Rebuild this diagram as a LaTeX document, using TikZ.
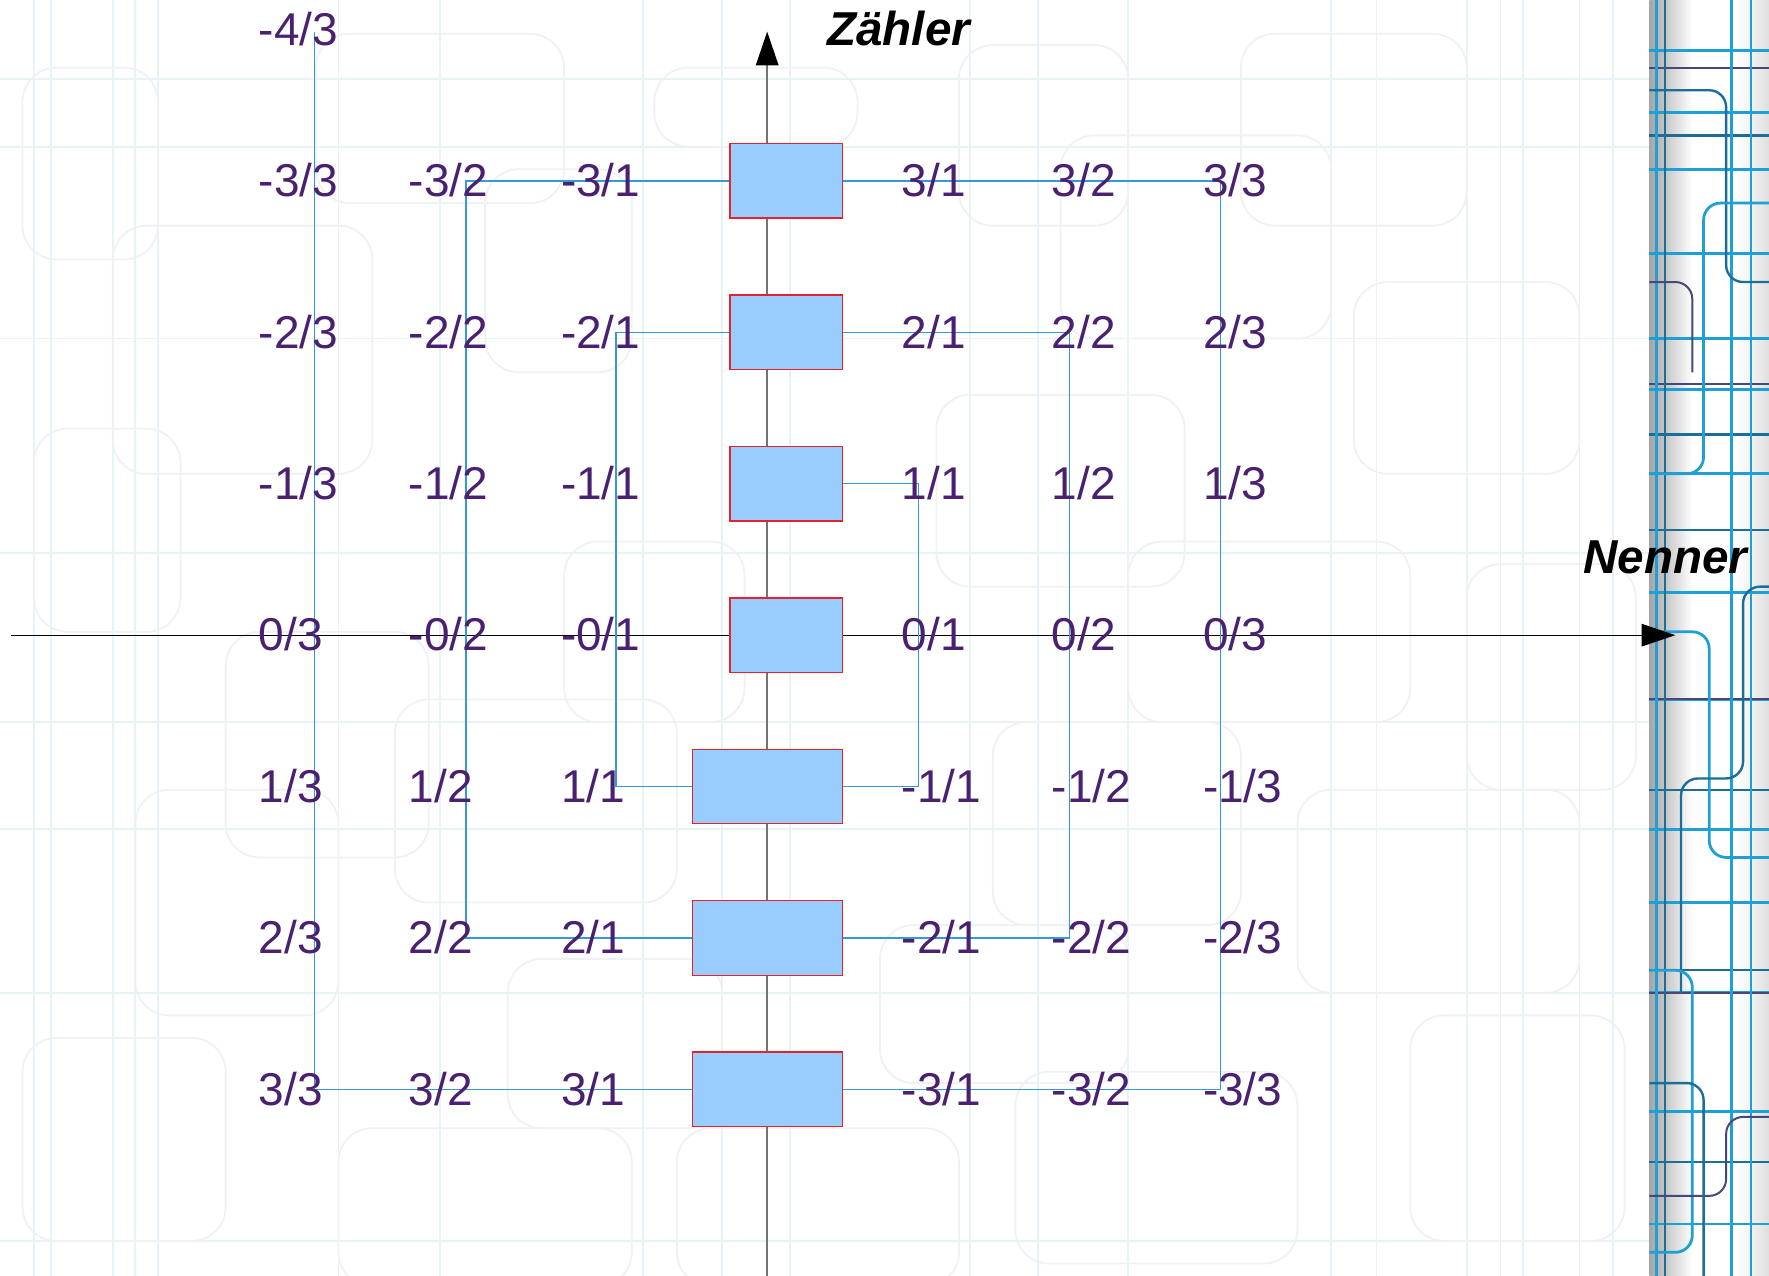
\documentclass[tikz,border=0pt]{standalone}
\usepackage{fontspec}
\setmainfont{Liberation Sans}
\usetikzlibrary{arrows.meta}
\definecolor{fraccol}{RGB}{74,32,112}
\definecolor{boxfill}{RGB}{153,204,255}
\definecolor{boxline}{RGB}{232,32,42}
\definecolor{linkcol}{RGB}{52,152,217}
\definecolor{bgA}{RGB}{232,243,247}
\definecolor{bgB}{RGB}{239,241,244}
\definecolor{tealA}{RGB}{30,160,212}
\definecolor{tealB}{RGB}{28,110,150}
\definecolor{navy}{RGB}{70,72,120}
\tikzset{
  frac/.style={anchor=base west, inner sep=0pt, text=fraccol, font=\fontsize{23.2}{28}\selectfont},
  axislabel/.style={anchor=base west, inner sep=0pt, text=black, font=\fontsize{24}{29}\selectfont\bfseries\itshape},
  fbox/.style={rectangle, draw=boxline, fill=boxfill, line width=0.7pt, minimum height=1.32cm, inner sep=0pt},
  upbox/.style={fbox, minimum width=2cm},
  lowbox/.style={fbox, minimum width=2.66cm},
  link/.style={draw=linkcol, line width=0.6pt},
  bgline/.style={draw=bgA, line width=0.9pt},
  bgrect/.style={draw=bgB, line width=0.9pt, rounded corners=0.6cm},
  stripA/.style={draw=tealA, line width=1.4pt, rounded corners=0.3cm},
  stripB/.style={draw=tealB, line width=1.2pt, rounded corners=0.3cm},
  stripC/.style={draw=navy, line width=1.0pt, rounded corners=0.3cm},
  axtip/.style={-{Triangle[length=0.6cm,width=0.4cm,black]}}
}
\begin{document}
\begin{tikzpicture}[x=0.02cm,y=-0.02cm]
\useasboundingbox (0,0) rectangle (1568,1131);
\fill[white] (0,0) rectangle (1568,1131);
% faint background pattern
\foreach \xx in {30,45,100,120,140,300,390,570,640,700,860,920,1000,1180,1220,1300,1330,1350,1400,1430}
  \draw[bgline] (\xx,0) -- (\xx,1131);
\foreach \yy in {70,130,300,490,640,735,880,1100}
  \draw[bgline] (0,\yy) -- (1462,\yy);
\foreach \xa/\ya/\xb/\yb in {20/60/140/230, 100/200/330/420, 30/380/160/560, 280/30/500/180, 430/150/560/330,
  200/560/380/760, 120/700/300/900, 350/620/600/800, 500/480/660/640, 850/40/1000/200, 940/120/1180/300,
  1100/30/1300/200, 1200/250/1400/420, 830/350/1050/520, 1000/480/1250/640, 1300/500/1450/700,
  880/640/1100/820, 1150/700/1400/880, 1250/900/1440/1100, 900/950/1150/1120, 600/1000/850/1140,
  300/1000/560/1140, 20/920/200/1100, 450/850/640/1000, 780/820/1000/960, 580/60/760/130}
  \draw[bgrect] (\xa,\ya) rectangle (\xb,\yb);
% right decorative strip
\fill[white] (1462,0) rectangle (1568,1131);
\shade[left color=gray!70, right color=white] (1462,0) rectangle (1500,1131);
\shade[left color=white, right color=gray!25] (1540,0) rectangle (1568,1131);
\foreach \yy in {45,100,150,225,300,345,420,525,620,735,800,880,985,1085}
  \draw[stripA] (1462,\yy) -- (1568,\yy);
\foreach \yy in {120,385,470,700,860,1030}
  \draw[stripB] (1462,\yy) -- (1568,\yy);
\foreach \yy in {60,340,620,880}
  \draw[stripC] (1462,\yy) -- (1568,\yy);
\draw[stripA] (1468,0) -- (1468,1131);
\draw[stripB] (1476,0) -- (1476,1131);
\draw[stripA] (1535,0) -- (1535,1131);
\draw[stripA] (1552,0) -- (1552,1131);
\draw[stripB] (1462,80) -- (1530,80) -- (1530,250) -- (1568,250);
\draw[stripA] (1568,180) -- (1510,180) -- (1510,420) -- (1462,420);
\draw[stripC] (1462,250) -- (1500,250) -- (1500,330);
\draw[stripA] (1462,560) -- (1515,560) -- (1515,760) -- (1568,760);
\draw[stripB] (1568,520) -- (1545,520) -- (1545,690) -- (1490,690) -- (1490,880);
\draw[stripA] (1462,860) -- (1500,860) -- (1500,1110) -- (1462,1110);
\draw[stripC] (1462,1060) -- (1530,1060) -- (1530,990) -- (1568,990);
\draw[stripB] (1462,960) -- (1510,960) -- (1510,1131);
% axes
\coordinate (vbot) at (680,1131);
\coordinate (vtop) at (680,28);
\coordinate (hleft) at (10,563);
\coordinate (hright) at (1485,563);
\draw[draw=gray!90!black, line width=0.8pt, axtip] (vbot) -- (vtop);
\draw[draw=black, line width=0.6pt, axtip] (hleft) -- (hright);
\node[axislabel] (zaehler) at (733,40) {Zähler};
\node[axislabel] (nenner) at (1403,508) {Nenner};
% boxes
\node[upbox] (bm3) at (697,160.4) {};
\node[upbox] (bm2) at (697,294.6) {};
\node[upbox] (bm1) at (697,428.8) {};
\node[upbox] (b0) at (697,563) {};
\node[lowbox] (bp1) at (680.5,697.2) {};
\node[lowbox] (bp2) at (680.5,831.4) {};
\node[lowbox] (bp3) at (680.5,965.6) {};
% corner coordinates
\coordinate (top43) at (279,28);
\coordinate (cL2) at (413,0);
\coordinate (cL1) at (546,0);
\coordinate (cR1) at (814,0);
\coordinate (cR2) at (948,0);
\coordinate (cR3) at (1082,0);
% blue links
\draw[link] (top43) |- (bp3.west);
\draw[link] (bm3.west) -| (cL2 |- bp2.west) -- (bp2.west);
\draw[link] (bm2.west) -| (cL1 |- bp1.west) -- (bp1.west);
\draw[link] (bm1.east) -| (cR1 |- bp1.east) -- (bp1.east);
\draw[link] (bm2.east) -| (cR2 |- bp2.east) -- (bp2.east);
\draw[link] (bm3.east) -| (cR3 |- bp3.east) -- (bp3.east);
% left column 3
\node[frac] (l3m4) at (229,40) {-4/3};
\node[frac] (l3m3) at (229,174.4) {-3/3};
\node[frac] (l3m2) at (229,308.6) {-2/3};
\node[frac] (l3m1) at (229,442.8) {-1/3};
\node[frac] (l30) at (229,577) {0/3};
\node[frac] (l3p1) at (229,711.2) {1/3};
\node[frac] (l3p2) at (229,845.4) {2/3};
\node[frac] (l3p3) at (229,979.6) {3/3};
% left column 2
\node[frac] (l2m3) at (362,174.4) {-3/2};
\node[frac] (l2m2) at (362,308.6) {-2/2};
\node[frac] (l2m1) at (362,442.8) {-1/2};
\node[frac] (l20) at (362,577) {-0/2};
\node[frac] (l2p1) at (362,711.2) {1/2};
\node[frac] (l2p2) at (362,845.4) {2/2};
\node[frac] (l2p3) at (362,979.6) {3/2};
% left column 1
\node[frac] (l1m3) at (497,174.4) {-3/1};
\node[frac] (l1m2) at (497,308.6) {-2/1};
\node[frac] (l1m1) at (497,442.8) {-1/1};
\node[frac] (l10) at (497,577) {-0/1};
\node[frac] (l1p1) at (497,711.2) {1/1};
\node[frac] (l1p2) at (497,845.4) {2/1};
\node[frac] (l1p3) at (497,979.6) {3/1};
% right column 1
\node[frac] (r1m3) at (799,174.4) {3/1};
\node[frac] (r1m2) at (799,308.6) {2/1};
\node[frac] (r1m1) at (799,442.8) {1/1};
\node[frac] (r10) at (799,577) {0/1};
\node[frac] (r1p1) at (799,711.2) {-1/1};
\node[frac] (r1p2) at (799,845.4) {-2/1};
\node[frac] (r1p3) at (799,979.6) {-3/1};
% right column 2
\node[frac] (r2m3) at (932,174.4) {3/2};
\node[frac] (r2m2) at (932,308.6) {2/2};
\node[frac] (r2m1) at (932,442.8) {1/2};
\node[frac] (r20) at (932,577) {0/2};
\node[frac] (r2p1) at (932,711.2) {-1/2};
\node[frac] (r2p2) at (932,845.4) {-2/2};
\node[frac] (r2p3) at (932,979.6) {-3/2};
% right column 3
\node[frac] (r3m3) at (1066,174.4) {3/3};
\node[frac] (r3m2) at (1066,308.6) {2/3};
\node[frac] (r3m1) at (1066,442.8) {1/3};
\node[frac] (r30) at (1066,577) {0/3};
\node[frac] (r3p1) at (1066,711.2) {-1/3};
\node[frac] (r3p2) at (1066,845.4) {-2/3};
\node[frac] (r3p3) at (1066,979.6) {-3/3};
\end{tikzpicture}
\end{document}
